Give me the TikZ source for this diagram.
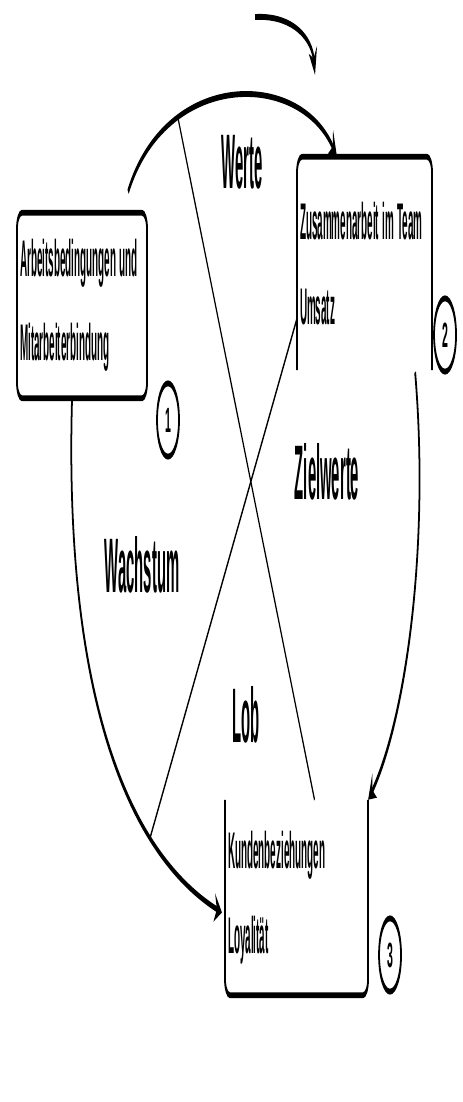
\documentclass[tikz,border=0pt]{standalone}
\usepackage{fontspec}
\setmainfont{Liberation Sans}
\usetikzlibrary{arrows.meta,calc}
\newcommand{\nar}[1]{\scalebox{0.64}[1]{#1}}

\begin{document}
\begin{tikzpicture}[x=0.03cm,y=-0.03cm,
  box/.style={inner xsep=0.3cm,inner ysep=0pt,align=left,
    font=\fontsize{44}{72}\selectfont\bfseries},
  edge/.style={line width=5pt,rounded corners=0.5cm},
  arr/.style={line width=5pt,-{Stealth[length=22pt,width=24pt]}},
  lnk/.style={line width=3pt},
  lbl/.style={font=\fontsize{66}{72}\selectfont\bfseries},
  num/.style={circle,draw,line width=5pt,minimum size=2.2cm,inner sep=0pt,
    font=\fontsize{30}{36}\selectfont\bfseries}]
\begin{scope}[x=0.1cm,transform canvas={xscale=0.3}]
\node[box,text width=12.4cm,minimum height=5.55cm] (bxA) at (82,305.5)
  {\nar{Arbeitsbedingungen und}\\\nar{Mitarbeiterbindung}};
\node[box,text width=12.9cm,minimum height=6.39cm] (bxB) at (364.5,263.5)
  {\nar{Zusammenarbeit im Team}\\\nar{Umsatz}};
\node[box,text width=13.7cm,minimum height=5.85cm] (bxC) at (296.5,897.5)
  {\nar{Kundenbeziehungen}\\\nar{Loyalität}};
\draw[edge] (bxA.north west) rectangle (bxA.south east);
\draw[edge] (bxB.south west) -- (bxB.north west) -- (bxB.north east) -- (bxB.south east);
\draw[edge] (bxC.north west) -- (bxC.south west) -- (bxC.south east) -- (bxC.north east);

\node[num] (nA) at (168,420) {1};
\node[num] (nB) at (445,335) {2};
\node[num] (nC) at (390,955) {3};

\draw[arr] ($(bxA.north east)+(-19,-21)$) .. controls (165,70) and (300,70) ..
  ($(bxB.north west)+(40,0)$) coordinate[pos=0.28] (xTop);
\draw[arr] ($(bxA.south)+(-10,2)$) .. controls (65,650) and (110,840) ..
  ($(bxC.west)+(-3,15)$) coordinate[pos=0.75] (xLeft);
\draw[arr] ($(bxB.south east)+(-17,2)$) .. controls (430,550) and (405,720) .. (bxC.north east);
\draw[lnk] (xTop) -- ($(bxC.north)+(18,0)$);
\draw[lnk] ($(bxB.west)+(0,55)$) -- (xLeft);

\coordinate (tpA) at (255,17);
\coordinate (tpB) at (315,75);
\draw[arr] (tpA) .. controls (295,15) and (312,40) .. (tpB);

\node[lbl] (lbWerte) at (242,162) {\nar{Werte}};
\node[lbl] (lbZiel) at (327,472) {\nar{Zielwerte}};
\node[lbl] (lbWachs) at (142,565) {\nar{Wachstum}};
\node[lbl] (lbLob) at (246,715) {\nar{Lob}};
\end{scope}
\pgfresetboundingbox
\useasboundingbox (0,0) rectangle (462,1102);
\end{tikzpicture}
\end{document}
